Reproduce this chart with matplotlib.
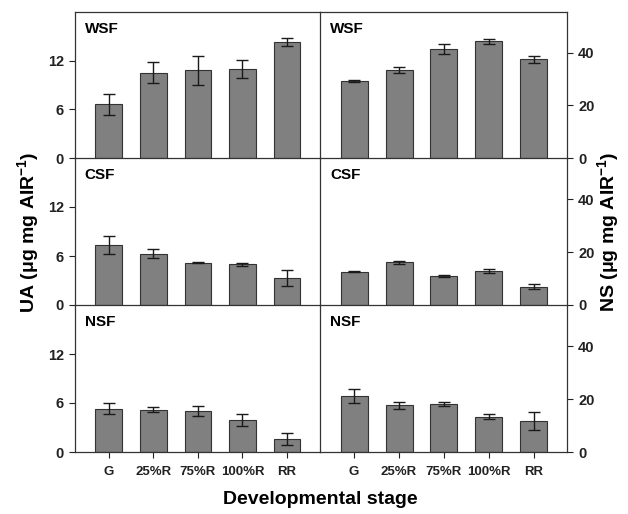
import numpy as np
import matplotlib.pyplot as plt

plt.rcParams['font.family'] = ['Liberation Sans', 'DejaVu Sans']
plt.rcParams['font.weight'] = 'bold'
plt.rcParams['mathtext.fontset'] = 'custom'
plt.rcParams['mathtext.rm'] = 'Liberation Sans:bold'
plt.rcParams['mathtext.it'] = 'Liberation Sans:bold'
plt.rcParams['mathtext.bf'] = 'Liberation Sans:bold'

stages = ['G', '25%R', '75%R', '100%R', 'RR']
fractions = ['WSF', 'CSF', 'NSF']

# UA (left column)
ua_wsf = [6.6, 10.5, 10.8, 11.0, 14.3]
ua_wsf_err = [1.3, 1.3, 1.8, 1.1, 0.5]
ua_csf = [7.4, 6.3, 5.2, 5.0, 3.3]
ua_csf_err = [1.1, 0.6, 0.1, 0.2, 0.95]
ua_nsf = [5.3, 5.2, 5.0, 3.95, 1.6]
ua_nsf_err = [0.65, 0.35, 0.65, 0.75, 0.75]

# NS (right column)
ns_wsf = [29.3, 33.4, 41.4, 44.4, 37.6]
ns_wsf_err = [0.3, 1.2, 1.8, 0.9, 1.3]
ns_csf = [12.6, 16.1, 10.8, 12.8, 6.9]
ns_csf_err = [0.3, 0.6, 0.4, 0.7, 1.0]
ns_nsf = [21.1, 17.7, 18.2, 13.4, 11.6]
ns_nsf_err = [2.5, 1.3, 0.8, 0.8, 3.4]

ua = [(ua_wsf, ua_wsf_err), (ua_csf, ua_csf_err), (ua_nsf, ua_nsf_err)]
ns = [(ns_wsf, ns_wsf_err), (ns_csf, ns_csf_err), (ns_nsf, ns_nsf_err)]

fig = plt.figure(figsize=(6.28, 5.14), dpi=100)
W, H = 628, 514
rows_px = [(12, 158), (158, 305), (305, 452)]
cols_px = [(75, 320), (320, 567)]

x = np.arange(len(stages))
edge = '#333333'

for r, (top, bot) in enumerate(rows_px):
    for c, (lft, rgt) in enumerate(cols_px):
        ax = fig.add_axes([lft / W, 1 - bot / H, (rgt - lft) / W, (bot - top) / H])
        ax.patch.set_alpha(0)
        vals, errs = (ua if c == 0 else ns)[r]
        ax.bar(x, vals, width=0.6, color='#808080', edgecolor=edge, linewidth=0.8)
        ax.errorbar(x, vals, yerr=errs, fmt='none', ecolor='#1a1a1a',
                    elinewidth=1, capsize=4, capthick=1)
        ax.set_xlim(-0.76, 4.74)
        if c == 0:
            ax.set_ylim(0, 18)
            ax.set_yticks([0, 6, 12])
            ax.yaxis.tick_left()
        else:
            ax.set_ylim(0, 55.5)
            ax.set_yticks([0, 20, 40])
            ax.yaxis.tick_right()
        for s in ax.spines.values():
            s.set_color('#333333')
            s.set_linewidth(0.9)
        if r != 0:
            ax.spines['top'].set_visible(False)
        if c == 0:
            ax.spines['right'].set_visible(False)
        ax.tick_params(axis='y', direction='out', length=4, labelsize=10.5,
                       colors='#222222', pad=4)
        if r == 2:
            ax.set_xticks(x)
            ax.set_xticklabels(stages)
            ax.tick_params(axis='x', direction='out', length=4, labelsize=9.5,
                           colors='#222222', pad=6)
        else:
            ax.set_xticks([])
        for lab in ax.get_xticklabels() + ax.get_yticklabels():
            lab.set_fontweight('bold')
        ax.text(0.04, 0.93, fractions[r], transform=ax.transAxes,
                fontsize=11, fontweight='bold', ha='left', va='top')

fig.text(28 / W, 1 - 232 / H, r'UA ($\mu$g mg AIR$^{-1}$)', rotation=90,
         ha='center', va='center', fontsize=14, fontweight='bold')
fig.text(608 / W, 1 - 232 / H, r'NS ($\mu$g mg AIR$^{-1}$)', rotation=90,
         ha='center', va='center', fontsize=14, fontweight='bold')
fig.text(320 / W, 1 - 500 / H, 'Developmental stage', ha='center', va='center',
         fontsize=14, fontweight='bold')

fig.savefig('out.png', dpi=100)
